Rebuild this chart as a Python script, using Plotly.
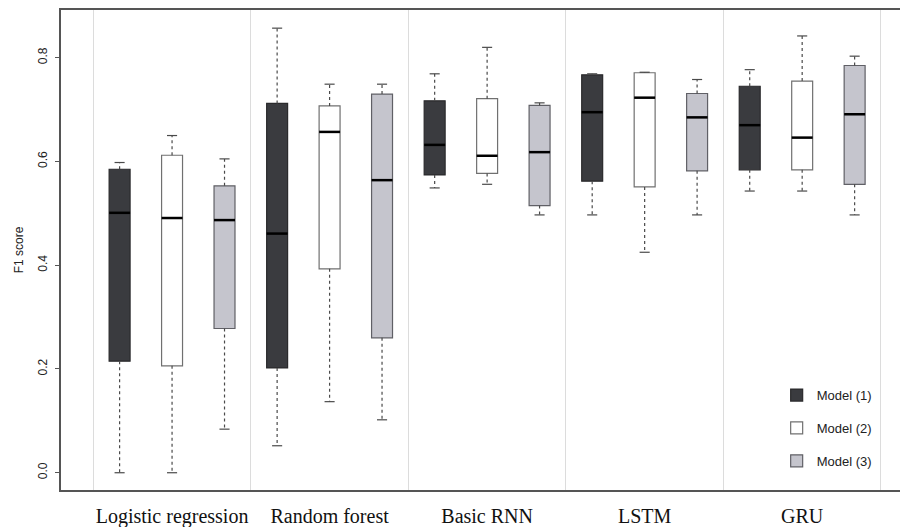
import plotly.graph_objects as go

categories = ["Logistic regression", "Random forest", "Basic RNN", "LSTM", "GRU"]
models = ["Model (1)", "Model (2)", "Model (3)"]

# per model: lists over categories
lower = {
    "Model (1)": [0.000, 0.052, 0.549, 0.497, 0.543],
    "Model (2)": [0.000, 0.137, 0.556, 0.425, 0.543],
    "Model (3)": [0.084, 0.102, 0.497, 0.497, 0.497],
}
q1 = {
    "Model (1)": [0.215, 0.202, 0.574, 0.562, 0.584],
    "Model (2)": [0.206, 0.393, 0.577, 0.551, 0.584],
    "Model (3)": [0.278, 0.260, 0.515, 0.582, 0.556],
}
median = {
    "Model (1)": [0.501, 0.461, 0.632, 0.695, 0.670],
    "Model (2)": [0.491, 0.657, 0.611, 0.723, 0.646],
    "Model (3)": [0.487, 0.564, 0.618, 0.685, 0.691],
}
q3 = {
    "Model (1)": [0.585, 0.712, 0.717, 0.767, 0.745],
    "Model (2)": [0.612, 0.707, 0.721, 0.771, 0.755],
    "Model (3)": [0.553, 0.730, 0.708, 0.731, 0.785],
}
upper = {
    "Model (1)": [0.598, 0.857, 0.769, 0.769, 0.777],
    "Model (2)": [0.650, 0.749, 0.820, 0.772, 0.842],
    "Model (3)": [0.605, 0.749, 0.713, 0.758, 0.803],
}
y_ticks = [0.0, 0.2, 0.4, 0.6, 0.8]
y_tick_labels = ["0.0", "0.2", "0.4", "0.6", "0.8"]

fills = {"Model (1)": "#3a3b3f", "Model (2)": "#ffffff", "Model (3)": "#c5c5cd"}
outlines = {"Model (1)": "#2a2a2c", "Model (2)": "#707070", "Model (3)": "#606066"}
offsets = {"Model (1)": -0.333, "Model (2)": 0.0, "Model (3)": 0.333}
box_w = 0.133
cap_half = 0.032
whisker_col = "#4a4a4a"

fig = go.Figure()
group_pos = list(range(1, len(categories) + 1))

# whiskers (dotted) and caps
for m in models:
    xs, ys, cx, cy = [], [], [], []
    for i, g in enumerate(group_pos):
        p = g + offsets[m]
        xs += [p, p, None, p, p, None]
        ys += [q3[m][i], upper[m][i], None, q1[m][i], lower[m][i], None]
        cx += [p - cap_half, p + cap_half, None, p - cap_half, p + cap_half, None]
        cy += [upper[m][i], upper[m][i], None, lower[m][i], lower[m][i], None]
    fig.add_trace(go.Scatter(x=xs, y=ys, mode="lines", showlegend=False, hoverinfo="skip",
                             line=dict(color=whisker_col, width=1.2, dash="dot")))
    fig.add_trace(go.Scatter(x=cx, y=cy, mode="lines", showlegend=False, hoverinfo="skip",
                             line=dict(color=whisker_col, width=1.2)))

# boxes
for r, m in enumerate(models):
    pos = [g + offsets[m] for g in group_pos]
    fig.add_trace(go.Box(
        x=pos, q1=q1[m], median=median[m], q3=q3[m],
        lowerfence=q1[m], upperfence=q3[m],
        name=m, legendgroup=m, legendrank=r + 1,
        fillcolor=fills[m], line=dict(color=outlines[m], width=1.2),
        width=box_w, whiskerwidth=0, hoverinfo="skip",
    ))

# medians
for m in models:
    mx, my = [], []
    for i, g in enumerate(group_pos):
        p = g + offsets[m]
        mx += [p - box_w / 2, p + box_w / 2, None]
        my += [median[m][i], median[m][i], None]
    fig.add_trace(go.Scatter(x=mx, y=my, mode="lines", showlegend=False, hoverinfo="skip",
                             line=dict(color="#000000", width=2.5)))

fig.update_layout(
    width=900, height=527,
    margin=dict(l=61, r=0, t=10, b=37),
    paper_bgcolor="white", plot_bgcolor="white",
    boxmode="overlay",
    font=dict(family="Liberation Sans, Arial, sans-serif", color="#222"),
    legend=dict(
        x=0.853, y=0.229, xanchor="left", yanchor="top",
        traceorder="grouped", tracegroupgap=13,
        font=dict(size=13, family="Liberation Sans, Arial, sans-serif", color="#222"),
        bgcolor="rgba(0,0,0,0)",
    ),
    xaxis=dict(
        range=[0.295, 5.621],
        tickvals=group_pos, ticktext=categories,
        tickfont=dict(family="Liberation Serif, Times New Roman, serif", size=20, color="#111"),
        ticklabelstandoff=7,
        showgrid=False, zeroline=False,
        showline=True, linecolor="#555", linewidth=1.5, mirror=True,
        ticks="",
        minor=dict(tickvals=[0.5, 1.5, 2.5, 3.5, 4.5, 5.5], showgrid=True,
                   gridcolor="#dcdcdc", gridwidth=1, ticks=""),
    ),
    yaxis=dict(
        range=[-0.0333, 0.892],
        tickvals=y_ticks, ticktext=y_tick_labels, tickangle=-90,
        tickfont=dict(size=12, color="#222"),
        ticks="outside", ticklen=4, tickcolor="#555",
        ticklabelstandoff=3,
        showgrid=False, zeroline=False,
        showline=True, linecolor="#555", linewidth=1.5,
        title=dict(text="F1 score", font=dict(size=12, color="#222"), standoff=10),
    ),
)

fig.write_html("out.html")
